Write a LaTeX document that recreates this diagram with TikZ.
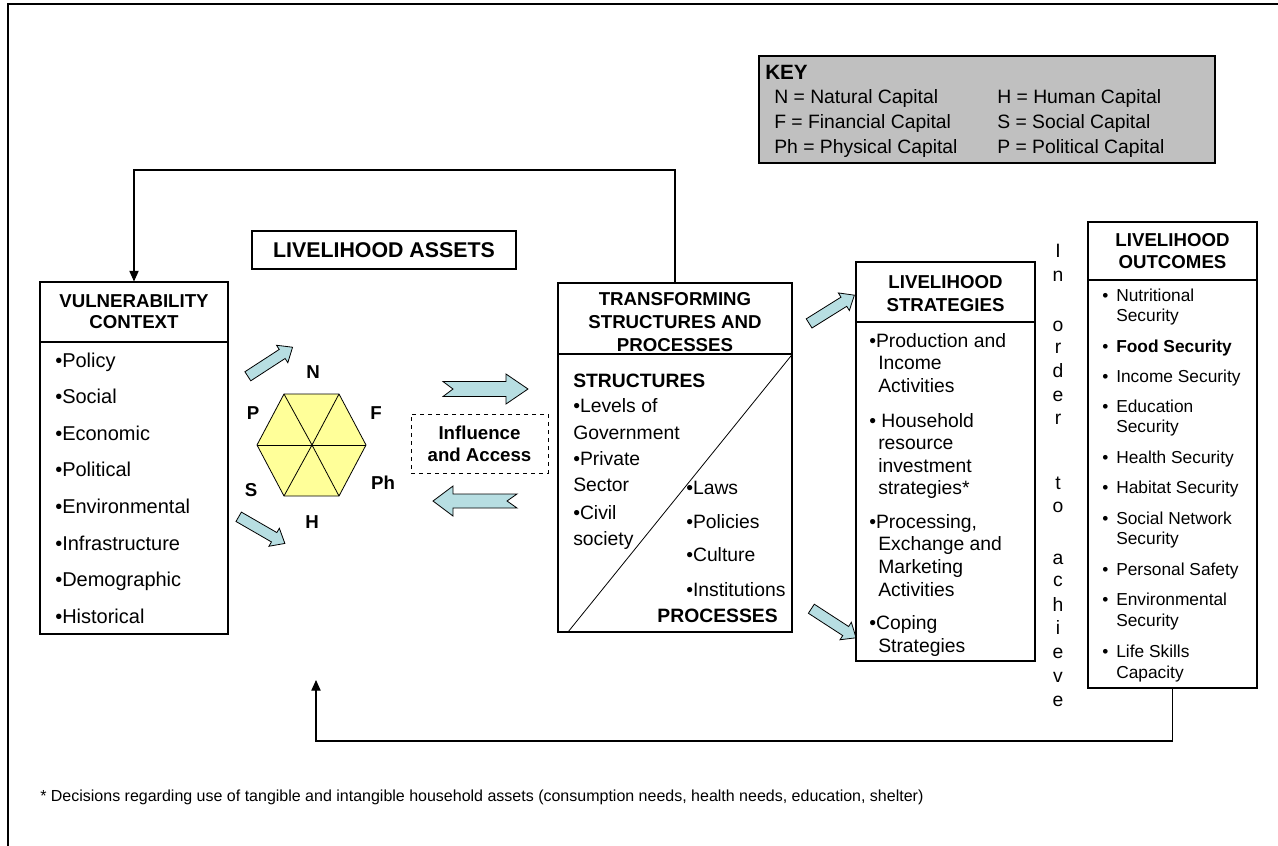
\documentclass[tikz,border=0pt]{standalone}
\usepackage{fontspec}
\setmainfont{Liberation Sans}
\usepackage{tikz}
\usetikzlibrary{fit}
\usetikzlibrary{arrows.meta}
\usetikzlibrary{shapes.arrows}
\usepackage{xcolor}
\definecolor{KeyGrey}{RGB}{192,192,192}
\definecolor{HexYellow}{RGB}{255,255,153}
\definecolor{ArrowBlue}{RGB}{183,222,226}
\tikzstyle{Frame}=[draw,line width=0.8pt,inner sep=0pt]
\tikzstyle{HeadText}=[font=\fontsize{14}{17.25}\selectfont\bfseries,align=center,inner sep=0pt]
\tikzstyle{ItemText}=[font=\fontsize{15}{18}\selectfont,anchor=base west,inner sep=0pt]
\tikzstyle{SmallText}=[font=\fontsize{14.5}{17}\selectfont,anchor=base west,inner sep=0pt]
\tikzstyle{OutText}=[font=\fontsize{13}{16}\selectfont,anchor=base west,inner sep=0pt]
\tikzstyle{HexLabel}=[font=\fontsize{14}{17}\selectfont\bfseries,inner sep=0pt]
\tikzstyle{FeedBack}=[line width=0.8pt,-{Triangle[width=7pt,length=8pt]}]
\tikzstyle{SmallArrow}=[single arrow,draw,fill=ArrowBlue,line width=0.6pt,inner sep=3.75pt,
single arrow head extend=3.75pt,minimum height=40pt,single arrow tip angle=80]
\tikzstyle{BigArrow}=[draw,fill=ArrowBlue,line width=0.6pt,line join=miter]

\begin{document}
\begin{tikzpicture}[x=0.75pt,y=-0.75pt]
    \useasboundingbox (0,0) rectangle (1278,846);
    \draw[line width=0.8pt] (8,846) -- (8,4) -- (1278,4);
    % key
    \node[Frame,fill=KeyGrey,fit={(759,56)(1215,163)}] (key) {};
    \node[SmallText,font=\fontsize{15.5}{17}\selectfont\bfseries] (keyt) at (765,79) {KEY};
    \foreach \y/\l/\r [count=\i] in {103/N = Natural Capital/H = Human Capital,
        128/F = Financial Capital/S = Social Capital,
        153/Ph = Physical Capital/P = Political Capital}{
        \node[SmallText] (kl\i) at (774,\y) {\l};
        \node[SmallText] (kr\i) at (997,\y) {\r};
    }
    % vulnerability context
    \node[Frame,fit={(40,282)(228,634)}] (vc) {};
    \draw[line width=0.8pt] (vc.west |- 0,342) -- (vc.east |- 0,342);
    \node[HeadText,font=\fontsize{14}{15.75}\selectfont\bfseries] (vch) at (134,312) {VULNERABILITY\\CONTEXT};
    \foreach \t [count=\i from 0] in {Policy,Social,Economic,Political,Environmental,
        Infrastructure,Demographic,Historical}
        \node[ItemText] (vi\i) at (55,{367+36.6*\i}) {•\t};
    % assets
    \node[draw,line width=0.8pt,minimum width=198pt,minimum height=28.5pt,
        font=\fontsize{16}{19}\selectfont\bfseries] (la) at (384,250) {LIVELIHOOD ASSETS};
    \coordinate (hc) at (312,445);
    \foreach \a/\b [count=\i] in {284/394,339/394,366/445,339/496,284/496,257/445}
        \coordinate (h\i) at (\a,\b);
    \draw[fill=HexYellow,line width=0.6pt] (h1)--(h2)--(h3)--(h4)--(h5)--(h6)--cycle;
    \foreach \i in {1,...,6} \draw[line width=0.6pt] (hc)--(h\i);
    \node[HexLabel] (capN) at (313,372) {N};
    \node[HexLabel] (capP) at (253,413) {P};
    \node[HexLabel] (capF) at (376,413) {F};
    \node[HexLabel] (capPh) at (383,483) {Ph};
    \node[HexLabel] (capS) at (251,490) {S};
    \node[HexLabel] (capH) at (312,522) {H};
    \node[SmallArrow,rotate=33] (arrA) at (267.5,363.5) {};
    \node[SmallArrow,rotate=-30] (arrB) at (259,528.5) {};
    % influence and access
    \node[draw,dashed,line width=0.6pt,minimum width=102.75pt,minimum height=44.25pt,
        align=center,font=\fontsize{14}{16.5}\selectfont\bfseries] (ia) at (479.5,443.5) {Influence\\and Access};
    \draw[BigArrow] (443,381.5) -- (506,381.5) -- (506,374) -- (528,389) -- (506,404)
        -- (506,396.5) -- (443,396.5) -- (453,389) -- cycle;
    \draw[BigArrow] (433,501) -- (453,486) -- (453,494) -- (517,494) -- (507,501)
        -- (517,508) -- (453,508) -- (453,516) -- cycle;
    % transforming structures
    \node[Frame,fit={(558,283)(792,632)}] (ts) {};
    \draw[line width=0.8pt] (ts.west |- 0,354) -- (ts.east |- 0,354);
    \coordinate (diagA) at (568,632);
    \draw[line width=0.6pt] (diagA) -- (ts.east |- 0,354);
    \node[HeadText] (tsh) at (675,322) {TRANSFORMING\\STRUCTURES AND\\PROCESSES};
    \node[SmallText,font=\fontsize{14.5}{17}\selectfont\bfseries] (str) at (573,387) {STRUCTURES};
    \foreach \y/\t [count=\i] in {412/•Levels of,439/Government,465/•Private,491/Sector,
        519/•Civil,545/society}
        \node[SmallText] (sl\i) at (573,\y) {\t};
    \foreach \y/\t [count=\i] in {494/•Laws,528/•Policies,561/•Culture,596/•Institutions}
        \node[SmallText] (pl\i) at (686,\y) {\t};
    \node[SmallText,anchor=base east,font=\fontsize{14.5}{17}\selectfont\bfseries] (prc) at (778,622) {PROCESSES};
    % strategies
    \node[SmallArrow,rotate=32] (arrC) at (829,311) {};
    \node[SmallArrow,rotate=-33] (arrD) at (831,621.5) {};
    \node[Frame,fit={(856,262)(1035,661)}] (ls) {};
    \draw[line width=0.8pt] (ls.west |- 0,322) -- (ls.east |- 0,322);
    \node[HeadText] (lsh) at (945.5,293.5) {LIVELIHOOD\\STRATEGIES};
    \foreach \x/\y/\t [count=\i] in {869/347/•Production and,878/369/Income,878/392/Activities,
        869/427/• Household,878/449/resource,878/472/investment,878/494/strategies*,
        869/528/{•Processing,},878/550/Exchange and,878/573/Marketing,878/596/Activities,
        869/629/•Coping,878/652/Strategies}
        \node[SmallText] (st\i) at (\x,\y) {\t};
    \foreach \c/\y [count=\i] in {I/257,n/281,o/331,r/353,d/377,e/401,r/424,t/489,o/512,
        a/564,c/586,h/611,i/634,e/658,v/682,e/706}
        \node[font=\fontsize{14.5}{17}\selectfont,anchor=base,inner sep=0pt] (ach\i) at (1058,\y) {\c};
    % outcomes
    \node[Frame,fit={(1088,222)(1257,688)}] (lo) {};
    \draw[line width=0.8pt] (lo.west |- 0,280) -- (lo.east |- 0,280);
    \node[HeadText,font=\fontsize{14}{16.5}\selectfont\bfseries] (loh) at (1172.5,251) {LIVELIHOOD\\OUTCOMES};
    \foreach \y/\t [count=\i] in {301/Nutritional,321/Security,352/{\bfseries Food Security},
        382/Income Security,412/Education,432/Security,463/Health Security,
        493/Habitat Security,524/Social Network,544/Security,575/Personal Safety,
        605/Environmental,626/Security,657/Life Skills,678/Capacity}
        \node[OutText] (ot\i) at (1116,\y) {\t};
    \foreach \y [count=\i] in {301,352,382,412,463,493,524,575,605,657}
        \node[OutText] (ob\i) at (1102,\y) {•};
    % feedback lines
    \draw[FeedBack] (ts.north) -- (ts.north |- 0,170) -| (vc.north);
    \coordinate (fbEnd) at (316,680);
    \draw[FeedBack] (lo.south) -- (lo.south |- 0,741) -| (fbEnd);
    \node[anchor=base west,inner sep=0pt,font=\fontsize{12}{14}\selectfont] (fn) at (40,801)
        {* Decisions regarding use of tangible and intangible household assets (consumption needs, health needs, education, shelter)};
\end{tikzpicture}
\end{document}
